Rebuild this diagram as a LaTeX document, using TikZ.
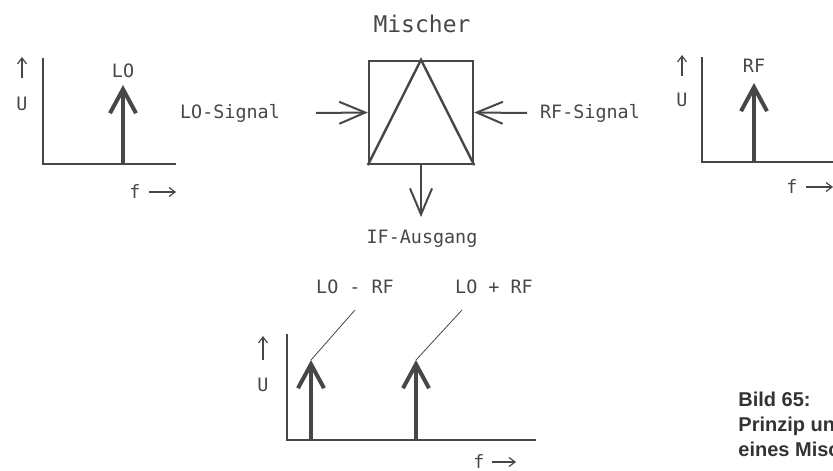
\documentclass[tikz,border=0pt]{standalone}
\usepackage{fontspec}
\newfontfamily\plotfont{DejaVu Sans Mono}
\newfontfamily\capfont{Liberation Sans}
\usetikzlibrary{arrows.meta, positioning}
\definecolor{linegray}{gray}{0.28}

\begin{document}
\begin{tikzpicture}[
    x=0.5pt, y=-0.5pt,
    txt/.style={font=\plotfont\fontsize{9.2}{10}\selectfont, text=linegray, inner sep=1pt},
    axis/.style={line width=1.4pt, draw=linegray},
    spike/.style={line width=2pt, draw=linegray,
        -{Straight Barb[length=12pt, width=13pt, line width=2pt]}},
    sigarrow/.style={line width=1pt, draw=linegray,
        -{Straight Barb[length=13pt, width=11pt, line width=1pt]}},
    small/.style={line width=0.6pt, draw=linegray,
        -{Straight Barb[length=3pt, width=4.5pt, line width=0.6pt]}},
    leader/.style={line width=0.4pt, draw=linegray}
]
\useasboundingbox (0,0) rectangle (833,470);

%% ─── MIXER ───────────────────────────────────────────────────
\node[draw=linegray, line width=1.2pt, minimum width=52pt, minimum height=51.5pt,
      inner sep=0pt] (mixer) at (421,112.5) {};
\draw[linegray, line width=1.2pt] (mixer.south west) -- (mixer.north) -- (mixer.south east);
\node[txt, font=\plotfont\fontsize{11.5}{12}\selectfont] (mischer) at (422,24) {Mischer};

\node[txt] (lolabel) at (230,113) {LO-Signal};
\node[txt] (rflabel) at (590,113) {RF-Signal};
\node[txt] (iflabel) at (422,239) {IF-Ausgang};

\coordinate (loin) at (316,113);
\coordinate (rfin) at (527,113);
\coordinate (ifout) at (421,217);
\draw[sigarrow] (loin) -- (mixer.west);
\draw[sigarrow] (rfin) -- (mixer.east);
\draw[sigarrow] (mixer.south) -- (ifout);

%% ─── LO SPECTRUM (left) ──────────────────────────────────────
\coordinate (lo0) at (43,164);
\draw[axis] (43,58) -- (lo0) -- (176,164);
\coordinate (lofoot) at (123,164);
\coordinate (lotip) at (123,85);
\draw[spike] (lofoot) -- (lotip);
\node[txt] (lotext) at (123,71) {LO};
\draw[small] (22,78) -- (22,57);
\node[txt] (loU) at (22,104) {U};
\node[txt] (lof) at (135,192) {f};
\draw[small] (149,192) -- (176,192);

%% ─── RF SPECTRUM (right) ─────────────────────────────────────
\coordinate (rf0) at (702,162);
\draw[axis] (702,57) -- (rf0) -- (840,162);
\coordinate (rffoot) at (754,162);
\coordinate (rftip) at (754,83);
\draw[spike] (rffoot) -- (rftip);
\node[txt] (rftext) at (754,66) {RF};
\draw[small] (682,76) -- (682,55);
\node[txt] (rfU) at (682,100) {U};
\node[txt] (rff) at (792,187) {f};
\draw[small] (806,187) -- (833,187);

%% ─── IF SPECTRUM (bottom) ────────────────────────────────────
\coordinate (if0) at (287,440);
\draw[axis] (287,334) -- (if0) -- (536,440);
\coordinate (difffoot) at (311,440);
\coordinate (difftip) at (311,360);
\coordinate (sumfoot) at (416,440);
\coordinate (sumtip) at (416,360);
\draw[spike] (difffoot) -- (difftip);
\draw[spike] (sumfoot) -- (sumtip);

\node[txt] (difftext) at (355,287) {LO - RF};
\node[txt] (sumtext) at (494,287) {LO + RF};
\coordinate (diffend) at (355,310);
\coordinate (sumend) at (462,310);
\draw[leader] (diffend) -- (difftip);
\draw[leader] (sumend) -- (sumtip);

\draw[small] (263,360) -- (263,336);
\node[txt] (ifU) at (263,385) {U};
\node[txt] (iff) at (479,462) {f};
\draw[small] (492,462) -- (516,462);

%% ─── CAPTION ─────────────────────────────────────────────────
\node[font=\capfont\bfseries\fontsize{10}{12.5}\selectfont, text=black!80,
      align=left, anchor=north west, inner sep=0pt] (caption) at (738,392)
    {Bild 65:\\Prinzip und\\eines Mischers};

\end{tikzpicture}
\end{document}
